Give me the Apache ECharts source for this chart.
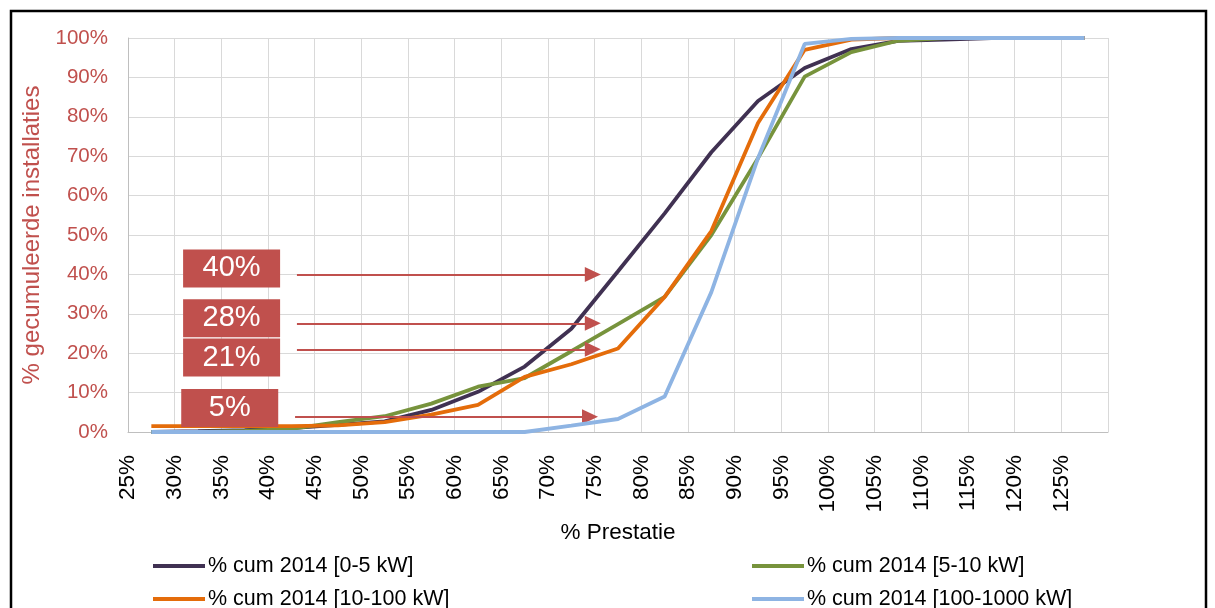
<!DOCTYPE html>
<html>
<head>
<meta charset="utf-8">
<script src="https://cdn.jsdelivr.net/npm/echarts@6/dist/echarts.min.js"></script>
<style>
  html, body { margin: 0; padding: 0; background: #fff; }
  #chart { width: 1215px; height: 608px; }
</style>
</head>
<body>
<div id="chart"></div>
<script>
// Bin midpoints (% Prestatie)
const binMid = [27.5, 32.5, 37.5, 42.5, 47.5, 52.5, 57.5, 62.5, 67.5, 72.5, 77.5, 82.5, 87.5, 92.5, 97.5, 102.5, 107.5, 112.5, 117.5, 122.5, 127.5];

// Cumulative % of installations
const cum0_5     = [0, 0.2, 0.5, 1, 1.8, 2.7, 5.6, 10.2, 16.6, 26.2, 40.8, 55.5, 71, 84, 92.4, 97.2, 99.3, 99.6, 100, 100, 100];
const cum5_10    = [0, 0, 0.3, 0.8, 2.5, 4, 7.2, 11.5, 13.7, 20.5, 27.4, 34.3, 50, 69.5, 90.2, 96.4, 99.3, 100, 100, 100, 100];
const cum10_100  = [1.5, 1.5, 1.5, 1.5, 1.7, 2.5, 4.4, 6.9, 14, 17.2, 21.2, 34.3, 51, 78.4, 97, 99.6, 100, 100, 100, 100, 100];
const cum100_1000 = [0, 0, 0, 0, 0, 0, 0, 0, 0, 1.6, 3.3, 9, 35.5, 69.5, 98.5, 99.8, 100, 100, 100, 100, 100];

const seriesNames = ['% cum 2014 [0-5 kW]', '% cum 2014 [5-10 kW]', '% cum 2014 [10-100 kW]', '% cum 2014 [100-1000 kW]'];
const seriesColors = ['#403152', '#77933C', '#E46C0A', '#8EB4E3'];
const seriesValues = [cum0_5, cum5_10, cum10_100, cum100_1000];

// Annotations
const boxLabels = ['40%', '28%', '21%', '5%'];
const boxLevels = [41.5, 28.9, 18.9, 6.1];
const arrowLevels = [40, 27.6, 21, 3.9];

const FONT = 'Liberation Sans, Arial, sans-serif';
const RED = '#C0504D';

const chart = echarts.init(document.getElementById('chart'), null, { renderer: 'canvas' });

const lineSeries = seriesValues.map((vals, k) => ({
  name: seriesNames[k],
  type: 'line',
  data: vals.map((v, i) => [binMid[i], v]),
  showSymbol: false,
  symbol: 'none',
  lineStyle: { color: seriesColors[k], width: 3.8 },
  itemStyle: { color: seriesColors[k] },
  z: 2 + k,
  silent: true
}));

const annotSeries = {
  name: 'annot',
  type: 'line',
  data: [],
  z: 10,
  silent: true,
  markLine: {
    silent: true,
    symbol: ['none', 'triangle'],
    symbolSize: [15, 16],
    label: { show: false },
    lineStyle: { color: RED, width: 2.2, type: 'solid' },
    emphasis: { disabled: true },
    data: arrowLevels.map((lv, i) => [
      { coord: [i === 3 ? 42.9 : 43.1, lv] },
      { coord: [i === 3 ? 74.5 : 74.8, lv] }
    ])
  },
  markPoint: {
    silent: true,
    symbol: 'rect',
    symbolSize: [97, 38],
    itemStyle: { color: RED },
    label: { show: true, color: '#fff', fontSize: 29, fontFamily: FONT, formatter: p => p.name },
    data: boxLabels.map((t, i) => ({ name: t, coord: [i === 3 ? 35.9 : 36.1, boxLevels[i]] }))
  }
};

const legendBase = {
  orient: 'vertical', itemGap: 11, padding: 0, height: 80,
  icon: 'rect', itemWidth: 52, itemHeight: 4, itemStyle: { borderWidth: 0 }, selectedMode: false,
  textStyle: { color: '#000', fontSize: 21.5, fontFamily: FONT, padding: [0, 0, 0, -2] }
};

const option = {
  animation: false,
  backgroundColor: '#fff',
  grid: { left: 128, right: 107, top: 38, bottom: 176, containLabel: false },
  xAxis: {
    type: 'value',
    min: 25, max: 130, interval: 5,
    name: '% Prestatie',
    nameLocation: 'middle',
    nameGap: 89,
    nameTextStyle: { color: '#000', fontSize: 22.5, fontFamily: FONT },
    axisLine: { show: true, lineStyle: { color: '#BFBFBF', width: 1 } },
    axisTick: { show: false },
    axisLabel: {
      rotate: 90, margin: 23, color: '#000', fontSize: 22.5, fontFamily: FONT,
      showMaxLabel: false,
      formatter: v => (v >= 130 ? '' : v + '%')
    },
    splitLine: { show: true, lineStyle: { color: '#D9D9D9', width: 1 } }
  },
  yAxis: {
    type: 'value',
    min: 0, max: 100, interval: 10,
    name: '% gecumuleerde installaties',
    nameLocation: 'middle',
    nameGap: 84,
    nameRotate: 90,
    nameTextStyle: { color: RED, fontSize: 24, fontFamily: FONT },
    axisLine: { show: true, lineStyle: { color: '#BFBFBF', width: 1 } },
    axisTick: { show: false },
    axisLabel: { margin: 20, color: RED, fontSize: 20.5, fontFamily: FONT, formatter: v => v + '%' },
    splitLine: { show: true, lineStyle: { color: '#D9D9D9', width: 1 } }
  },
  legend: [
    Object.assign({}, legendBase, { data: [seriesNames[0], seriesNames[2]], left: 153, top: 555 }),
    Object.assign({}, legendBase, { data: [seriesNames[1], seriesNames[3]], left: 752, top: 555 })
  ],
  graphic: [
    {
      type: 'rect', silent: true, z: 100,
      shape: { x: 11, y: 11, width: 1195, height: 640 },
      style: { fill: 'none', stroke: '#000', lineWidth: 2.5 }
    }
  ],
  series: lineSeries.concat([annotSeries])
};

chart.setOption(option);
</script>
</body>
</html>
